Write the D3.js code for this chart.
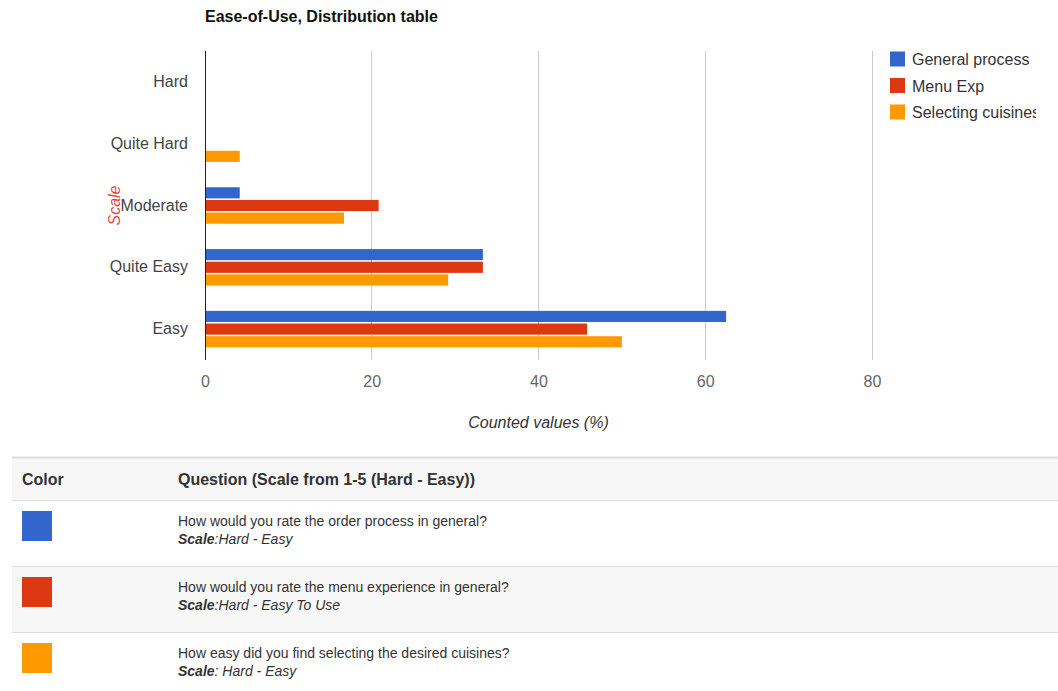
<!DOCTYPE html>
<html>
<head>
<meta charset="utf-8">
<script src="https://cdn.jsdelivr.net/npm/d3@7"></script>
<style>
  html, body { margin: 0; padding: 0; background: #fff; }
  svg { display: block; font-family: "Liberation Sans", Arial, sans-serif; }
</style>
</head>
<body>
<svg id="chart" width="1058" height="691"></svg>
<script>
// Answer categories, top to bottom
const categories = ["Hard", "Quite Hard", "Moderate", "Quite Easy", "Easy"];
// Series names (legend) and colours
const seriesNames = ["General process", "Menu Exp", "Selecting cuisines"];
const seriesColors = ["#3366cc", "#dc3912", "#ff9900"];
// Share of answers (%) per category, one array per series
const generalProcess = [0, 0, 4.17, 33.33, 62.5];
const menuExp = [0, 0, 20.83, 33.33, 45.83];
const selectingCuisines = [0, 4.17, 16.67, 29.17, 50.0];
const seriesValues = [generalProcess, menuExp, selectingCuisines];
// X axis ticks
const xTicks = [0, 20, 40, 60, 80];
// Table below the chart
const tableHeaders = ["Color", "Question (Scale from 1-5 (Hard - Easy))"];
const questions = [
  "How would you rate the order process in general?",
  "How would you rate the menu experience in general?",
  "How easy did you find selecting the desired cuisines?"
];
const scaleLabels = ["Hard - Easy", "Hard - Easy To Use", " Hard - Easy"];

const svg = d3.select("#chart");

// ---- chart ----
const plot = { left: 205, right: 872, top: 51, bottom: 360 };

const x = d3.scaleLinear().domain([0, 80]).range([plot.left, plot.right]);
const y = d3.scaleBand().domain(categories).range([plot.top, plot.bottom])
  .paddingInner(0.41).paddingOuter(0.205);
const ySeries = d3.scaleBand().domain(d3.range(seriesNames.length))
  .range([0, y.bandwidth()]).paddingInner(0.12);

// title
svg.append("text")
  .attr("x", plot.left).attr("y", 22)
  .attr("font-size", 16).attr("font-weight", "bold").attr("fill", "#111")
  .text("Ease-of-Use, Distribution table");

// vertical gridlines
svg.append("g").selectAll("line")
  .data(xTicks.filter(d => d !== 0)).join("line")
  .attr("x1", d => x(d)).attr("x2", d => x(d))
  .attr("y1", plot.top).attr("y2", plot.bottom)
  .attr("stroke", "#cccccc").attr("stroke-width", 1)
  .attr("shape-rendering", "crispEdges");

// bars
const rows = [];
categories.forEach((c, ci) => {
  seriesValues.forEach((vals, si) => rows.push({ c, si, v: vals[ci] }));
});
svg.append("g").selectAll("rect")
  .data(rows.filter(d => d.v > 0)).join("rect")
  .attr("x", x(0))
  .attr("y", d => y(d.c) + ySeries(d.si))
  .attr("width", d => x(d.v) - x(0))
  .attr("height", ySeries.bandwidth())
  .attr("fill", d => seriesColors[d.si]);

// baseline at zero
svg.append("line")
  .attr("x1", x(0)).attr("x2", x(0))
  .attr("y1", plot.top).attr("y2", plot.bottom)
  .attr("stroke", "#222").attr("stroke-width", 1)
  .attr("shape-rendering", "crispEdges");

// x axis labels
const xAxis = svg.append("g")
  .attr("transform", `translate(0,${plot.bottom + 27})`)
  .call(d3.axisBottom(x).tickValues(xTicks).tickSize(0).tickPadding(0));
xAxis.select(".domain").remove();
xAxis.selectAll("text")
  .attr("font-size", 16).attr("fill", "#666")
  .attr("font-family", "Liberation Sans, Arial, sans-serif")
  .attr("dy", 0);

// y axis labels
const yAxis = svg.append("g")
  .attr("transform", `translate(${plot.left},0)`)
  .call(d3.axisLeft(y).tickSize(0).tickPadding(17));
yAxis.select(".domain").remove();
yAxis.selectAll("text")
  .attr("font-size", 16).attr("fill", "#444")
  .attr("font-family", "Liberation Sans, Arial, sans-serif");

// axis titles
svg.append("text")
  .attr("x", (plot.left + plot.right) / 2).attr("y", 428)
  .attr("text-anchor", "middle").attr("font-size", 16)
  .attr("font-style", "italic").attr("fill", "#333")
  .text("Counted values (%)");

svg.append("text")
  .attr("transform", `translate(120,${(plot.top + plot.bottom) / 2}) rotate(-90)`)
  .attr("text-anchor", "middle").attr("font-size", 16)
  .attr("font-style", "italic").attr("fill", "#dd4b4b")
  .text("Scale");

// legend (clipped on the right)
svg.append("clipPath").attr("id", "legendClip")
  .append("rect").attr("x", 880).attr("y", 40).attr("width", 156).attr("height", 100);
const legend = svg.append("g").attr("clip-path", "url(#legendClip)")
  .selectAll("g").data(seriesNames).join("g")
  .attr("transform", (d, i) => `translate(890,${59 + i * 26.5})`);
legend.append("rect")
  .attr("x", 0).attr("y", -7.5).attr("width", 15).attr("height", 15)
  .attr("fill", (d, i) => seriesColors[i]);
legend.append("text")
  .attr("x", 22).attr("y", 6).attr("font-size", 16).attr("fill", "#333")
  .text(d => d);

// ---- table ----
const table = { left: 12, right: 1058, top: 457, headerH: 43, rowH: 66 };
const tbl = svg.append("g");

tbl.append("rect")
  .attr("x", table.left).attr("y", table.top)
  .attr("width", table.right - table.left).attr("height", table.headerH)
  .attr("fill", "#f7f7f7");

questions.forEach((q, i) => {
  const top = table.top + table.headerH + i * table.rowH;
  tbl.append("rect")
    .attr("x", table.left).attr("y", top)
    .attr("width", table.right - table.left).attr("height", table.rowH)
    .attr("fill", i % 2 === 1 ? "#f7f7f7" : "#ffffff");
  tbl.append("rect")
    .attr("x", 22).attr("y", top + 11).attr("width", 30).attr("height", 30)
    .attr("fill", seriesColors[i]);
  tbl.append("text")
    .attr("x", 178).attr("y", top + 26).attr("font-size", 14).attr("fill", "#333")
    .text(q);
  const s = tbl.append("text")
    .attr("x", 178).attr("y", top + 44).attr("font-size", 14).attr("fill", "#333")
    .attr("font-style", "italic");
  s.append("tspan").attr("font-weight", "bold").text("Scale");
  s.append("tspan").text(":" + scaleLabels[i]);
});

// header labels
tbl.selectAll("text.head").data(tableHeaders).join("text")
  .attr("class", "head")
  .attr("x", (d, i) => i === 0 ? 22 : 178)
  .attr("y", table.top + 28)
  .attr("font-size", 16).attr("font-weight", "bold").attr("fill", "#333")
  .text(d => d);

// row separators
const lineYs = [table.top, table.top + table.headerH]
  .concat(questions.map((q, i) => table.top + table.headerH + (i + 1) * table.rowH));
tbl.selectAll("line").data(lineYs).join("line")
  .attr("x1", table.left).attr("x2", table.right)
  .attr("y1", d => d + 0.5).attr("y2", d => d + 0.5)
  .attr("stroke", "#dcdcdc").attr("stroke-width", (d, i) => i === 0 ? 2 : 1);
</script>
</body>
</html>
